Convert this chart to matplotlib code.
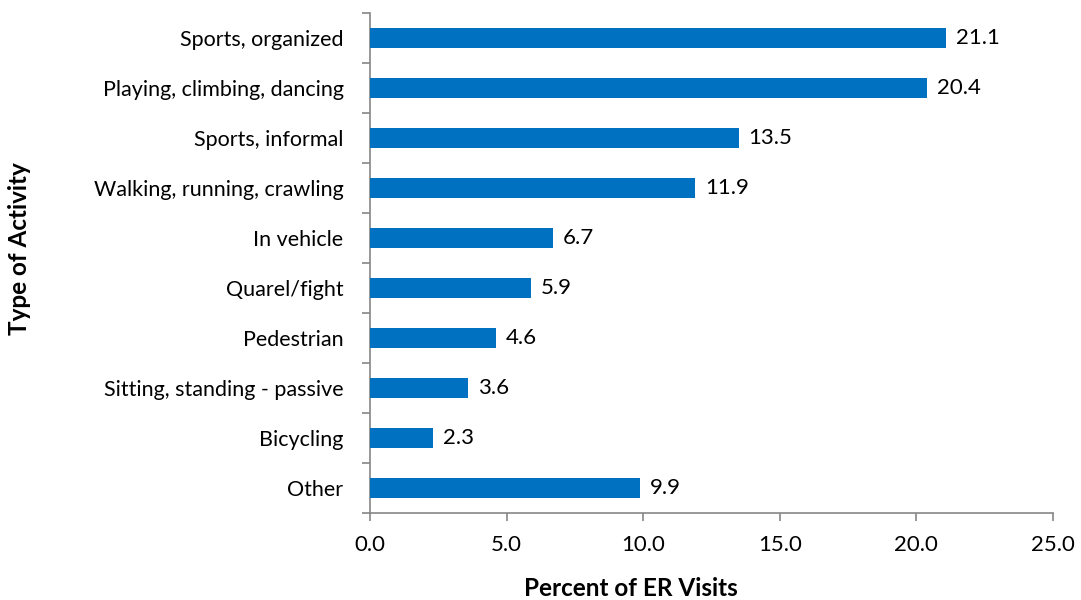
import numpy as np
import matplotlib
matplotlib.use('Agg')
from matplotlib import pyplot as plt

plt.rcParams['font.family'] = ['Lato', 'DejaVu Sans']

activities = ['Sports, organized', 'Playing, climbing, dancing', 'Sports, informal',
              'Walking, running, crawling', 'In vehicle', 'Quarel/fight', 'Pedestrian',
              'Sitting, standing - passive', 'Bicycling', 'Other']
percent = [21.1, 20.4, 13.5, 11.9, 6.7, 5.9, 4.6, 3.6, 2.3, 9.9]
xticks = [0, 5, 10, 15, 20, 25]

bar_color = '#0070C0'
axis_color = '#868686'

fig = plt.figure(figsize=(10.81, 6.0), dpi=100)
ax = fig.add_axes([370 / 1081, 1 - 513 / 600, (1053 - 370) / 1081, 500 / 600])

ypos = np.arange(len(activities))
ax.barh(ypos, percent, height=0.4, color=bar_color, zorder=3)
for y, v in zip(ypos, percent):
    ax.annotate('%.1f' % v, (v, y), xytext=(7, 0), textcoords='offset points',
                va='center', ha='left', fontsize=16)

ax.set_ylim(len(activities) - 0.5, -0.5)
ax.set_xlim(0, 25)
ax.set_xticks(xticks)
ax.set_xticklabels(['%.1f' % t for t in xticks], fontsize=16)
ax.set_yticks(ypos)
ax.set_yticklabels(activities, fontsize=15.5)
# category separators as tick marks on the left spine
ax.set_yticks(np.arange(-0.5, len(activities)), minor=True)
ax.tick_params(axis='y', which='major', length=0, pad=19)
ax.tick_params(axis='y', which='minor', length=6, color=axis_color, width=1.2)
ax.tick_params(axis='x', length=6, color=axis_color, width=1.2, pad=10)

for s in ['top', 'right']:
    ax.spines[s].set_visible(False)
for s in ['left', 'bottom']:
    ax.spines[s].set_color(axis_color)
    ax.spines[s].set_linewidth(1.2)

fig.text(631 / 1081, 1 - 588 / 600, 'Percent of ER Visits', ha='center', va='center',
         fontsize=17.5, fontweight='bold')
fig.text(20 / 1081, 1 - 249 / 600, 'Type of Activity', ha='center', va='center',
         rotation=90, fontsize=17.5, fontweight='bold')

fig.savefig('out.png', dpi=100)
